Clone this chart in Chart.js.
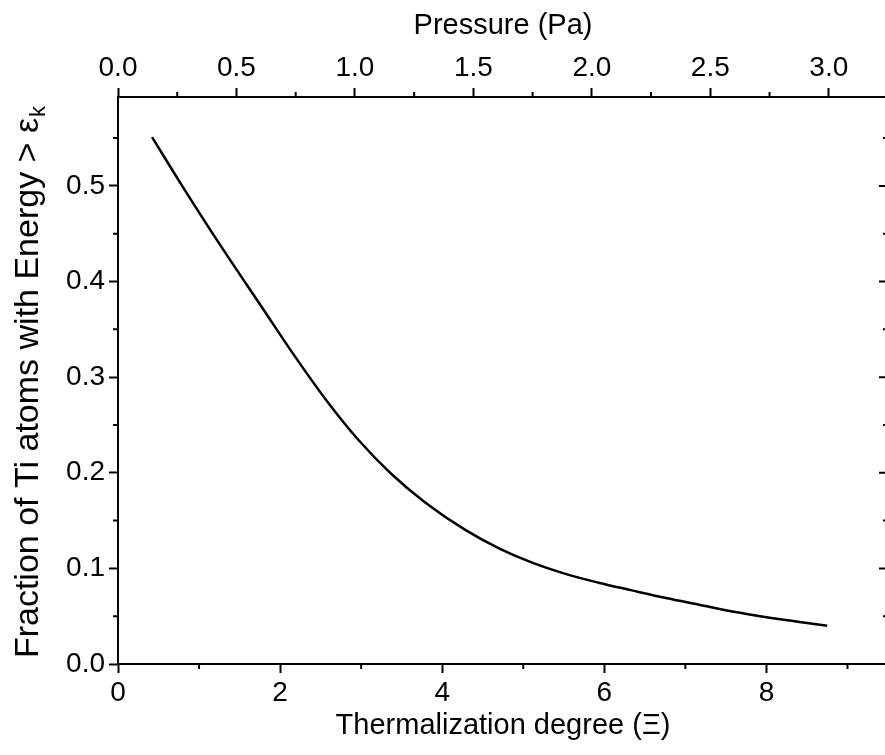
<!DOCTYPE html>
<html>
<head>
<meta charset="utf-8">
<script src="https://cdn.jsdelivr.net/npm/chart.js@4.4.0/dist/chart.umd.min.js"></script>
<style>
  html, body { margin: 0; padding: 0; background: #fff; overflow: hidden; }
  #wrap { position: relative; width: 892px; height: 755px; }
</style>
</head>
<body>
<div id="wrap"><canvas id="chart" width="892" height="755"></canvas></div>
<script>
// ── data ────────────────────────────────────────────────────────────────────
const thermalization = [0.42, 0.77, 1.27, 1.80, 2.14, 2.56, 2.97, 3.37, 3.79, 4.29, 4.70,
                        5.11, 5.53, 5.93, 6.34, 6.76, 7.17, 7.58, 8.00, 8.41, 8.75];
const fraction       = [0.551, 0.503, 0.437, 0.370, 0.327, 0.277, 0.234, 0.199, 0.169, 0.140, 0.121,
                        0.106, 0.094, 0.085, 0.077, 0.069, 0.062, 0.055, 0.049, 0.044, 0.040];

const xTicks        = [0, 2, 4, 6, 8];
const xMinor        = [1, 3, 5, 7, 9];
const pressureTicks = [0.0, 0.5, 1.0, 1.5, 2.0, 2.5, 3.0];
const pressureMinor = [0.25, 0.75, 1.25, 1.75, 2.25, 2.75];
const yTicks        = [0.0, 0.1, 0.2, 0.3, 0.4, 0.5];
const yMinor        = [0.05, 0.15, 0.25, 0.35, 0.45, 0.55];

const yTitle = "Fraction of Ti atoms with Energy > ε";
const ySub   = "k";

const FONT = '"Liberation Sans", Arial, sans-serif';
const tickFont  = { family: FONT, size: 28 };
const titleFont = { family: FONT, size: 29 };

function fixTicks(list) { return s => { s.ticks = list.map(v => ({ value: v })); }; }

// minor ticks, inward ticks on the right, and the y title with subscript
const extras = {
  id: "extras",
  afterDraw(chart) {
    const { ctx, chartArea: a, scales: { x, x2, y } } = chart;
    ctx.save();
    ctx.strokeStyle = "#000"; ctx.lineWidth = 2;
    ctx.beginPath();
    xMinor.forEach(v => { const p = x.getPixelForValue(v); ctx.moveTo(p, a.bottom); ctx.lineTo(p, a.bottom + 5); });
    pressureMinor.forEach(v => { const p = x2.getPixelForValue(v); ctx.moveTo(p, a.top); ctx.lineTo(p, a.top - 5); });
    yMinor.forEach(v => {
      const p = y.getPixelForValue(v);
      ctx.moveTo(a.left, p); ctx.lineTo(a.left - 5, p);
      ctx.moveTo(a.right, p); ctx.lineTo(a.right - 5, p);
    });
    yTicks.forEach(v => { const p = y.getPixelForValue(v); ctx.moveTo(a.right, p); ctx.lineTo(a.right - 9, p); });
    ctx.stroke();

    ctx.fillStyle = "#000";
    ctx.translate(29, (a.top + a.bottom) / 2 + 2);
    ctx.rotate(-Math.PI / 2);
    ctx.textBaseline = "middle";
    ctx.font = "34px " + FONT;
    const w1 = ctx.measureText(yTitle).width;
    ctx.font = "22px " + FONT;
    const w2 = ctx.measureText(ySub).width;
    const start = -(w1 + w2) / 2;
    ctx.font = "34px " + FONT;
    ctx.fillText(yTitle, start, 0);
    ctx.font = "22px " + FONT;
    ctx.fillText(ySub, start + w1 + 1, 10);
    ctx.restore();
  }
};

const axisCommon = {
  type: "linear",
  grid: { drawOnChartArea: false, drawTicks: true, tickLength: 9, tickWidth: 2, tickColor: "#000" },
  border: { display: true, color: "#000", width: 2 },
  ticks: { color: "#000", font: tickFont, padding: 3, maxRotation: 0, autoSkip: false, includeBounds: false },
};

new Chart(document.getElementById("chart").getContext("2d"), {
  type: "line",
  data: {
    datasets: [{
      data: thermalization.map((t, i) => ({ x: t, y: fraction[i] })),
      borderColor: "#000", borderWidth: 2.5, pointRadius: 0,
      cubicInterpolationMode: "monotone", xAxisID: "x", yAxisID: "y",
    }],
  },
  plugins: [extras],
  options: {
    responsive: false, animation: false,
    layout: { padding: 0 },
    plugins: { legend: { display: false }, tooltip: { enabled: false } },
    scales: {
      x: {
        ...axisCommon, position: "bottom", min: 0, max: 9.5,
        ticks: { ...axisCommon.ticks, callback: v => v.toFixed(0) },
        title: { display: true, text: "Thermalization degree (Ξ)", color: "#000", font: titleFont, padding: { top: 0, bottom: 12 } },
        afterBuildTicks: fixTicks(xTicks),
        afterFit: s => { s.height = 91; },
      },
      x2: {
        ...axisCommon, position: "top", min: 0, max: 3.25,
        ticks: { ...axisCommon.ticks, callback: v => v.toFixed(1) },
        title: { display: true, text: "Pressure (Pa)", color: "#000", font: titleFont, padding: { top: 9, bottom: 0 } },
        afterBuildTicks: fixTicks(pressureTicks),
        afterFit: s => { s.height = 97; },
      },
      y: {
        ...axisCommon, position: "left", min: 0, max: 0.593,
        ticks: { ...axisCommon.ticks, padding: 4, callback: v => v.toFixed(1) },
        afterBuildTicks: fixTicks(yTicks),
        afterFit: s => { s.width = 118; },
      },
      y2: {
        ...axisCommon, position: "right", min: 0, max: 0.593,
        grid: { display: false },
        ticks: { display: false },
        afterFit: s => { s.width = 4; },
      },
    },
  },
});
</script>
</body>
</html>
